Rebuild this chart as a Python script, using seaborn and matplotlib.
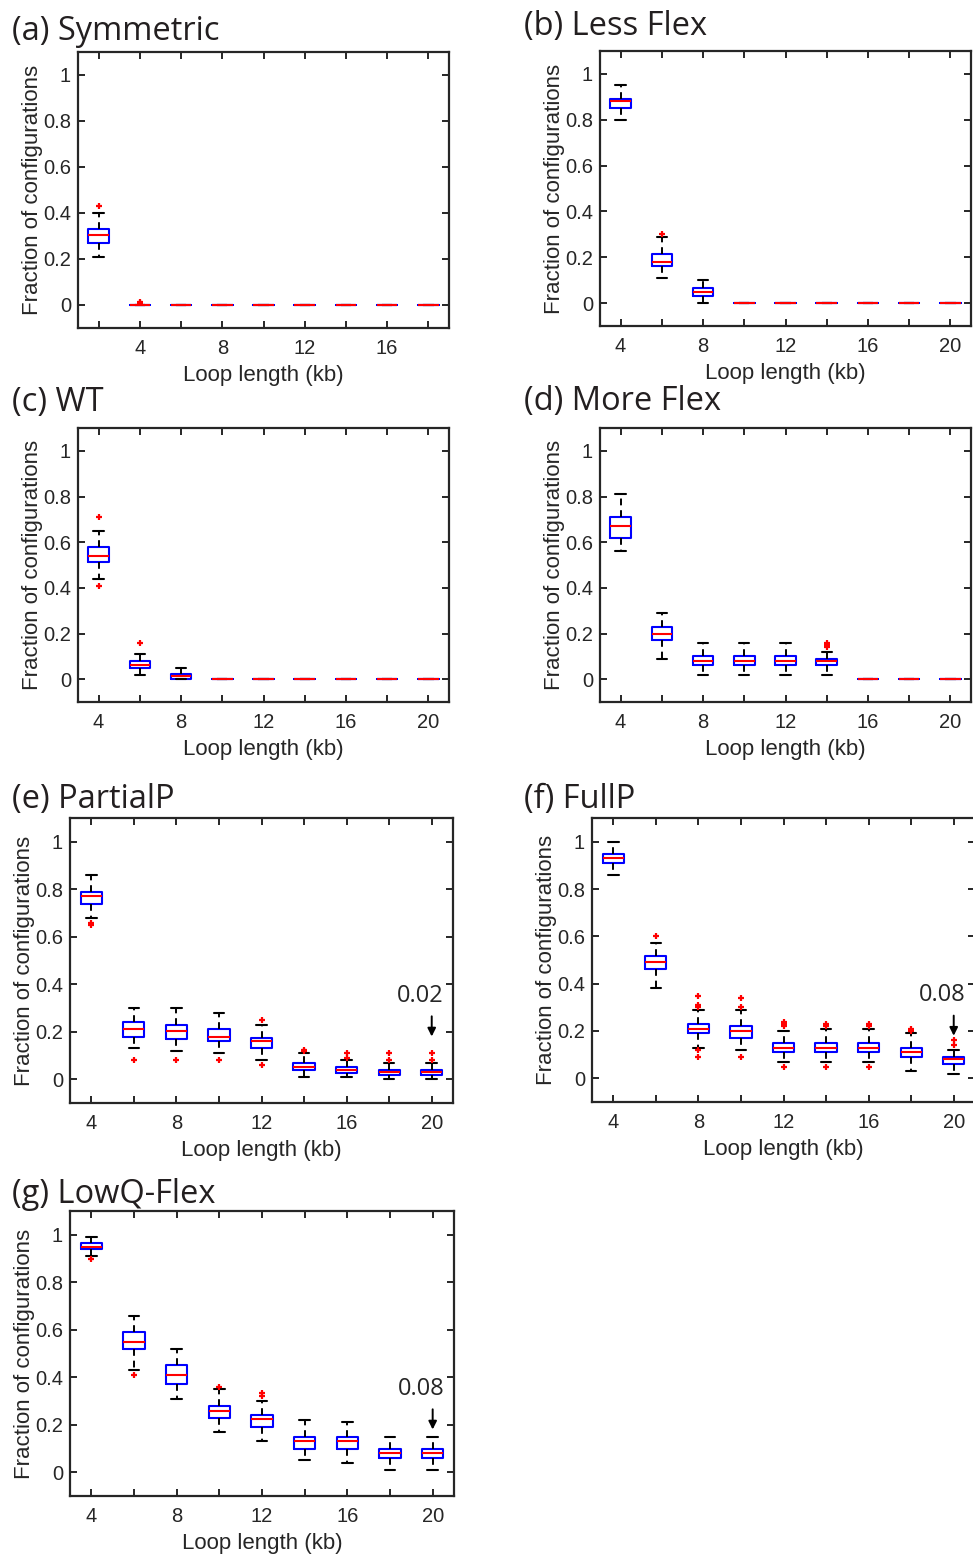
import matplotlib
matplotlib.use("Agg")
import matplotlib.pyplot as plt
import seaborn as sns

sns.set_theme(style="ticks")
plt.rcParams['font.family'] = ['Liberation Sans', 'DejaVu Sans']

# ---------------- data (box summaries) ----------------
sym_pos = [2, 4, 6, 8, 10, 12, 14, 16, 18]
sym_whislo = [0.21, 0, 0, 0, 0, 0, 0, 0, 0]
sym_q1 = [0.27, 0, 0, 0, 0, 0, 0, 0, 0]
sym_med = [0.305, 0, 0, 0, 0, 0, 0, 0, 0]
sym_q3 = [0.33, 0, 0, 0, 0, 0, 0, 0, 0]
sym_whishi = [0.40, 0, 0, 0, 0, 0, 0, 0, 0]
sym_fliers = [[0.43], [0.008, 0.014], [], [], [], [], [], [], []]

loop_pos = [4, 6, 8, 10, 12, 14, 16, 18, 20]

less_whislo = [0.80, 0.11, 0.0, 0, 0, 0, 0, 0, 0]
less_q1 = [0.85, 0.16, 0.03, 0, 0, 0, 0, 0, 0]
less_med = [0.88, 0.18, 0.05, 0, 0, 0, 0, 0, 0]
less_q3 = [0.89, 0.215, 0.066, 0, 0, 0, 0, 0, 0]
less_whishi = [0.95, 0.29, 0.10, 0, 0, 0, 0, 0, 0]
less_fliers = [[], [0.30], [], [], [], [], [], [], []]

wt_whislo = [0.44, 0.02, 0.0, 0, 0, 0, 0, 0, 0]
wt_q1 = [0.515, 0.05, 0.0, 0, 0, 0, 0, 0, 0]
wt_med = [0.54, 0.06, 0.012, 0, 0, 0, 0, 0, 0]
wt_q3 = [0.58, 0.08, 0.022, 0, 0, 0, 0, 0, 0]
wt_whishi = [0.65, 0.11, 0.05, 0, 0, 0, 0, 0, 0]
wt_fliers = [[0.41, 0.71], [0.16], [], [], [], [], [], [], []]

more_whislo = [0.56, 0.09, 0.02, 0.02, 0.02, 0.02, 0, 0, 0]
more_q1 = [0.62, 0.17, 0.06, 0.06, 0.06, 0.06, 0, 0, 0]
more_med = [0.67, 0.20, 0.08, 0.08, 0.08, 0.08, 0, 0, 0]
more_q3 = [0.71, 0.23, 0.10, 0.10, 0.10, 0.09, 0, 0, 0]
more_whishi = [0.81, 0.29, 0.16, 0.16, 0.16, 0.12, 0, 0, 0]
more_fliers = [[], [], [], [], [], [0.14, 0.15, 0.16], [], [], []]

partial_whislo = [0.68, 0.13, 0.12, 0.11, 0.08, 0.01, 0.01, 0.0, 0.0]
partial_q1 = [0.74, 0.18, 0.17, 0.16, 0.13, 0.04, 0.025, 0.02, 0.02]
partial_med = [0.77, 0.21, 0.205, 0.18, 0.16, 0.05, 0.04, 0.03, 0.03]
partial_q3 = [0.79, 0.24, 0.23, 0.21, 0.175, 0.07, 0.05, 0.04, 0.04]
partial_whishi = [0.86, 0.30, 0.30, 0.28, 0.23, 0.11, 0.08, 0.07, 0.07]
partial_fliers = [[0.65, 0.66], [0.08], [0.08], [0.08], [0.06, 0.25],
                  [0.12, 0.125], [0.09, 0.11], [0.08, 0.11], [0.08, 0.11]]

full_whislo = [0.86, 0.38, 0.13, 0.12, 0.07, 0.07, 0.07, 0.03, 0.02]
full_q1 = [0.91, 0.46, 0.19, 0.17, 0.11, 0.11, 0.11, 0.09, 0.06]
full_med = [0.93, 0.49, 0.21, 0.20, 0.13, 0.13, 0.13, 0.11, 0.08]
full_q3 = [0.95, 0.515, 0.23, 0.22, 0.15, 0.15, 0.15, 0.13, 0.09]
full_whishi = [1.0, 0.57, 0.29, 0.29, 0.20, 0.21, 0.21, 0.19, 0.12]
full_fliers = [[], [0.60], [0.09, 0.12, 0.30, 0.31, 0.35], [0.09, 0.30, 0.34],
               [0.05, 0.22, 0.23, 0.24], [0.05, 0.22, 0.23], [0.05, 0.22, 0.23],
               [0.20, 0.21], [0.14, 0.16]]

lowq_whislo = [0.91, 0.43, 0.31, 0.17, 0.13, 0.05, 0.04, 0.01, 0.01]
lowq_q1 = [0.94, 0.52, 0.37, 0.23, 0.19, 0.10, 0.10, 0.06, 0.06]
lowq_med = [0.95, 0.55, 0.41, 0.26, 0.225, 0.13, 0.13, 0.08, 0.08]
lowq_q3 = [0.965, 0.59, 0.45, 0.28, 0.24, 0.15, 0.15, 0.10, 0.10]
lowq_whishi = [0.99, 0.66, 0.52, 0.35, 0.30, 0.22, 0.21, 0.15, 0.15]
lowq_fliers = [[0.90], [0.41], [], [0.36], [0.32, 0.335], [], [], [], []]

titles = ["(a) Symmetric", "(b) Less Flex", "(c) WT", "(d) More Flex",
          "(e) PartialP", "(f) FullP", "(g) LowQ-Flex"]
annotations = {4: "0.02", 5: "0.08", 6: "0.08"}
ytick_vals = [0, 0.2, 0.4, 0.6, 0.8, 1]
ytick_labels = ["0", "0.2", "0.4", "0.6", "0.8", "1"]

# ---------------- layout ----------------
W, H = 973, 1555
fig = plt.figure(figsize=(W / 100, H / 100), dpi=100)

# axes boxes in pixels: left, right, top, bottom
boxes = [(78, 449, 52, 328), (600, 971, 51, 326),
         (78, 449, 428, 702), (600, 971, 428, 702),
         (70, 453, 818, 1103), (592, 975, 818, 1102),
         (70, 454, 1211, 1496)]
title_xy = [(12, 40), (524, 35), (12, 411), (524, 410),
            (12, 808), (524, 808), (12, 1203)]

panels = [
    (sym_pos, sym_whislo, sym_q1, sym_med, sym_q3, sym_whishi, sym_fliers),
    (loop_pos, less_whislo, less_q1, less_med, less_q3, less_whishi, less_fliers),
    (loop_pos, wt_whislo, wt_q1, wt_med, wt_q3, wt_whishi, wt_fliers),
    (loop_pos, more_whislo, more_q1, more_med, more_q3, more_whishi, more_fliers),
    (loop_pos, partial_whislo, partial_q1, partial_med, partial_q3, partial_whishi, partial_fliers),
    (loop_pos, full_whislo, full_q1, full_med, full_q3, full_whishi, full_fliers),
    (loop_pos, lowq_whislo, lowq_q1, lowq_med, lowq_q3, lowq_whishi, lowq_fliers),
]

axcol = '#262626'
title_font = ['Open Sans', 'DejaVu Sans']

for i, (pos, wlo, q1, med, q3, whi, fl) in enumerate(panels):
    l, r, t, b = boxes[i]
    ax = fig.add_axes([l / W, 1 - b / H, (r - l) / W, (b - t) / H])
    stats = [dict(whislo=a, q1=c, med=m, q3=d, whishi=e, fliers=f)
             for a, c, m, d, e, f in zip(wlo, q1, med, q3, whi, fl)]
    ax.bxp(stats, positions=pos, widths=1.0, capwidths=0.5, showfliers=True,
           boxprops=dict(color='#0000ff', lw=1.5),
           medianprops=dict(color='#ff0000', lw=1.5),
           whiskerprops=dict(color='black', lw=1.4, ls=(0, (3.5, 2.5))),
           capprops=dict(color='black', lw=1.5),
           flierprops=dict(marker='+', markeredgecolor='#ff0000', markersize=5,
                           mew=1.6, ls='none'),
           manage_ticks=False)
    if i == 0:
        ax.set_xlim(1, 19)
        xt = list(range(2, 19, 2))
    else:
        ax.set_xlim(3, 21)
        xt = list(range(4, 21, 2))
    ax.set_xticks(xt)
    ax.set_xticklabels([str(v) if v % 4 == 0 else "" for v in xt])
    ax.set_ylim(-0.1, 1.1)
    ax.set_yticks(ytick_vals)
    ax.set_yticklabels(ytick_labels)
    ax.tick_params(direction='in', top=True, right=True, length=5, width=1.4,
                   colors=axcol, labelsize=14.5)
    ax.tick_params(axis='x', pad=8)
    ax.tick_params(axis='y', pad=5)
    for s in ax.spines.values():
        s.set_color(axcol)
        s.set_linewidth(1.6)
    ax.set_xlabel("Loop length (kb)", fontsize=16, color=axcol, labelpad=5)
    ax.set_ylabel("Fraction of configurations", fontsize=16, color=axcol, labelpad=0)
    ax.grid(False)
    if i in annotations:
        ax.annotate("", xy=(20, 0.18), xytext=(20, 0.265),
                    arrowprops=dict(arrowstyle='-|>', color='black', lw=1.4,
                                    mutation_scale=12, shrinkA=0, shrinkB=0))
        ax.text(19.45, 0.325, annotations[i], ha='center', va='baseline',
                fontsize=17, color=axcol, family=title_font)
    tx, ty = title_xy[i]
    fig.text(tx / W, 1 - ty / H, titles[i], ha='left', va='baseline',
             fontsize=23.5, color='#231f20', family=title_font)

fig.savefig("out.png", dpi=100)
